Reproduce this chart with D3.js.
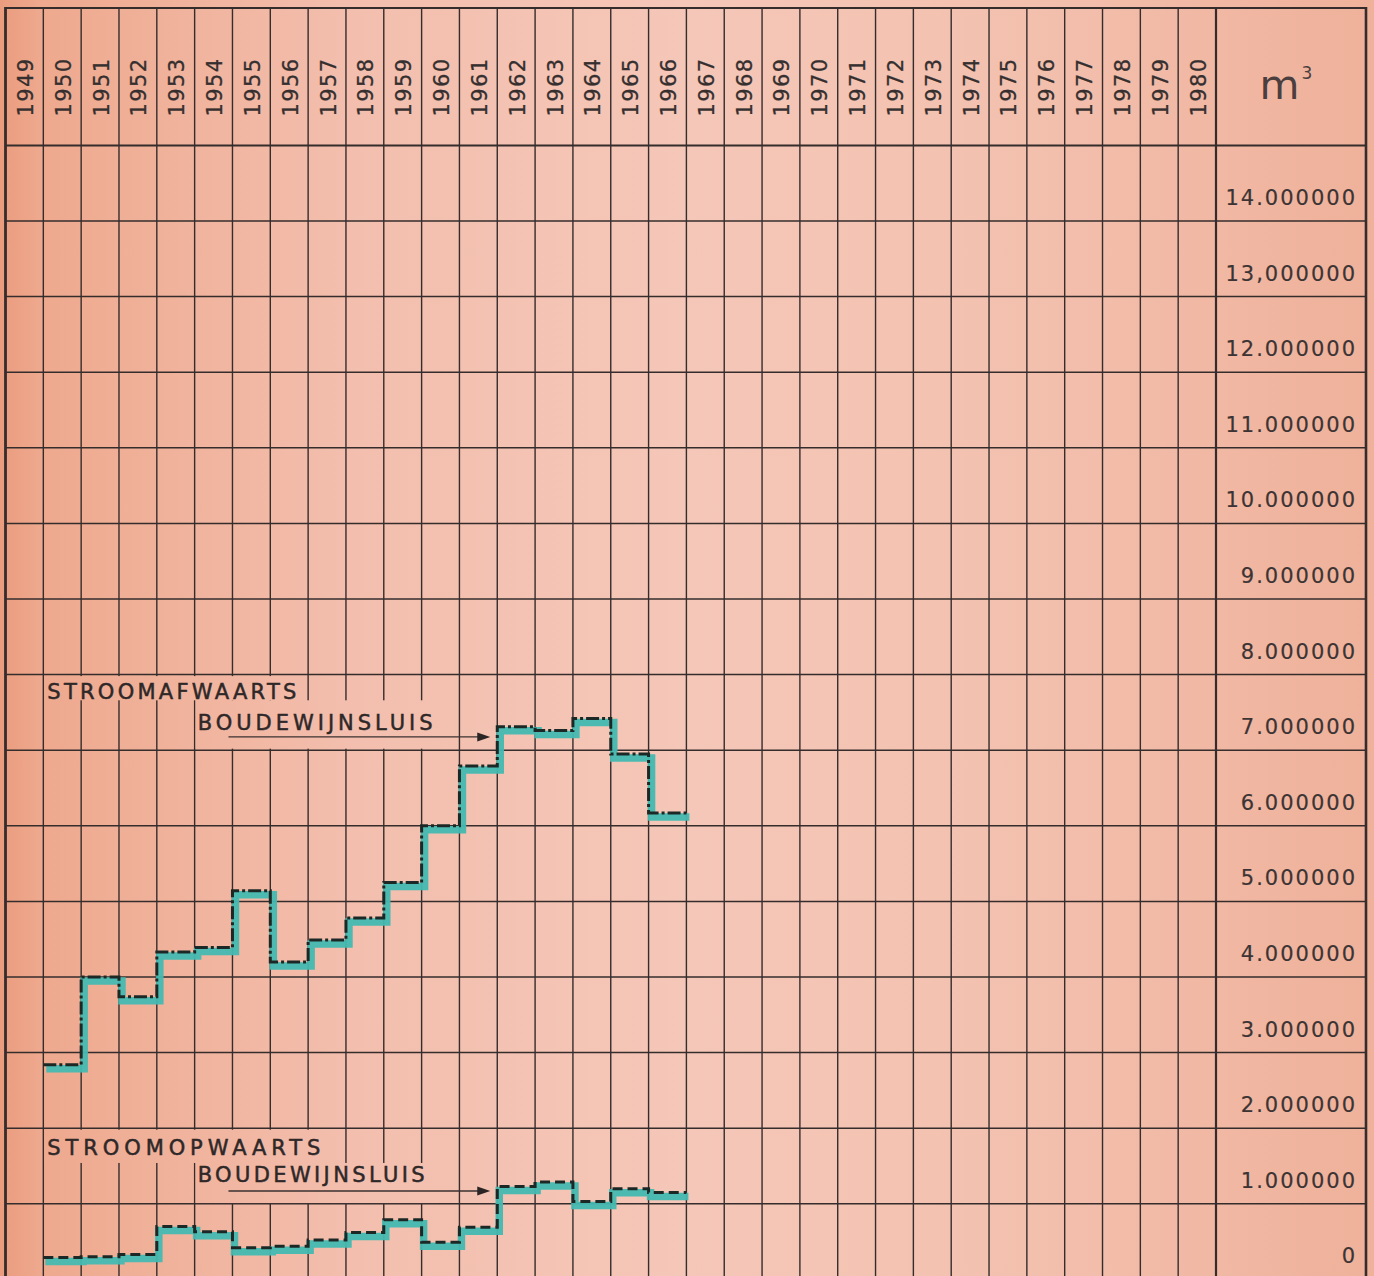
<!DOCTYPE html>
<html>
<head>
<meta charset="utf-8">
<script src="https://cdn.jsdelivr.net/npm/d3@7"></script>
<style>
  html, body { margin: 0; padding: 0; background: #f2bca6; }
  svg { display: block; }
</style>
</head>
<body>
<svg id="chart" width="1374" height="1276"></svg>
<script>
// ---------- data ----------
const years = d3.range(1949, 1981);              // column headers 1949..1980
const dataYears = d3.range(1950, 1967);          // years with data
// Stroomafwaarts Boudewijnsluis (m3)
const downstream = [2.84e6, 4.00e6, 3.74e6, 4.33e6, 4.39e6, 5.14e6, 4.20e6, 4.49e6, 4.78e6,
                    5.25e6, 6.00e6, 6.79e6, 7.31e6, 7.26e6, 7.42e6, 6.95e6, 6.17e6];
// Stroomopwaarts Boudewijnsluis (m3)
const upstream   = [0.29e6, 0.30e6, 0.33e6, 0.70e6, 0.63e6, 0.42e6, 0.44e6, 0.52e6, 0.62e6,
                    0.79e6, 0.49e6, 0.69e6, 1.23e6, 1.29e6, 1.03e6, 1.20e6, 1.15e6];
const yTicks = d3.range(0, 15e6, 1e6);
const yTickLabels = ["0", "1.000000", "2.000000", "3.000000", "4.000000", "5.000000", "6.000000",
                     "7.000000", "8.000000", "9.000000", "10.000000", "11.000000", "12.000000",
                     "13,000000", "14.000000"];
const unitLabel = "m";
const unitSup = "3";
const labelDown = ["STROOMAFWAARTS", "BOUDEWIJNSLUIS"];
const labelUp = ["STROOMOPWAARTS", "BOUDEWIJNSLUIS"];

// ---------- layout ----------
const svg = d3.select("#chart");
const W = 1374, H = 1276;
const gLeft = 5.5, colRight = 1216, gRight = 1366, gTop = 8, headerBottom = 145.4;
const x = d3.scaleBand().domain(years).range([gLeft, colRight]).padding(0);
const y = d3.scaleLinear().domain([0, 15e6]).range([1279.4, headerBottom]);
const ink = "#352c2c";
const font = "'DejaVu Sans', sans-serif";

// background gradient (user space so masks match)
const defs = svg.append("defs");
const grad = defs.append("linearGradient").attr("id", "bg")
  .attr("gradientUnits", "userSpaceOnUse").attr("x1", 0).attr("y1", 0).attr("x2", W).attr("y2", 0);
[[0, "#eb9c7e"], [0.03, "#eea98e"], [0.25, "#f3bead"], [0.5, "#f5c7b8"], [0.75, "#f3c0ae"], [1, "#efb19a"]]
  .forEach(([o, c]) => grad.append("stop").attr("offset", o).attr("stop-color", c));

svg.append("rect").attr("width", W).attr("height", H).attr("fill", "url(#bg)");

// ---------- grid ----------
const g = svg.append("g");
// vertical column lines
g.selectAll("line.v").data(years.slice(1)).join("line")
  .attr("x1", d => x(d)).attr("x2", d => x(d))
  .attr("y1", gTop).attr("y2", H)
  .attr("stroke", ink).attr("stroke-width", 1.4);
// horizontal value lines
g.selectAll("line.h").data(yTicks).join("line")
  .attr("x1", gLeft).attr("x2", gRight)
  .attr("y1", d => y(d)).attr("y2", d => y(d))
  .attr("stroke", ink).attr("stroke-width", 1.5);
// header bottom, top border
[headerBottom, gTop].forEach(yy => g.append("line")
  .attr("x1", gLeft).attr("x2", gRight).attr("y1", yy).attr("y2", yy)
  .attr("stroke", ink).attr("stroke-width", 2));
// borders
[[gLeft, 2.8], [colRight, 2.2], [gRight, 2.6]].forEach(([xx, w]) => g.append("line")
  .attr("x1", xx).attr("x2", xx).attr("y1", gTop - 1).attr("y2", H)
  .attr("stroke", ink).attr("stroke-width", w));

// masks behind lettering (grid interrupted)
const masks = [
  [x(1950) + 1, y(8e6) + 1.5, x(1957) - 1.5, y(7.66e6)],
  [x(1954) + 1, y(7.66e6), x(1961) - 20, y(7.02e6)],
  [x(1950) + 1, y(2e6) + 1.5, x(1958) - 8, y(1.54e6)],
  [x(1954) + 1, y(1.54e6), x(1961) - 20, y(1.01e6)]
];
svg.selectAll("rect.mask").data(masks).join("rect")
  .attr("x", d => d[0]).attr("y", d => d[1])
  .attr("width", d => d[2] - d[0]).attr("height", d => d[3] - d[1])
  .attr("fill", "url(#bg)");

// ---------- header text ----------
svg.selectAll("text.year").data(years).join("text")
  .attr("transform", d => `translate(${x(d) + x.bandwidth() / 2 + 1.5},87) rotate(-90)`)
  .attr("text-anchor", "middle").attr("dominant-baseline", "central")
  .attr("font-family", font).attr("font-size", 21).attr("letter-spacing", 1.4)
  .attr("fill", "#352f2f").attr("stroke", "#352f2f").attr("stroke-width", 0.3)
  .text(d => d);

const unit = svg.append("text").attr("x", (colRight + gRight) / 2 - 5).attr("y", 99)
  .attr("text-anchor", "middle").attr("font-family", font).attr("font-size", 41)
  .attr("fill", "#4a3e3e");
unit.append("tspan").text(unitLabel);
unit.append("tspan").attr("font-size", 17).attr("dy", -20).attr("dx", 2).text(unitSup);

// ---------- right axis labels ----------
svg.selectAll("text.tick").data(yTicks).join("text")
  .attr("x", 1357).attr("y", d => y(d) - 23)
  .attr("text-anchor", "end").attr("dominant-baseline", "central")
  .attr("font-family", font).attr("font-size", 21).attr("letter-spacing", 2)
  .attr("fill", "#3c3434").attr("stroke", "#3c3434").attr("stroke-width", 0.2)
  .text((d, i) => yTickLabels[i]);

// ---------- step series ----------
function stepPoints(vals) {
  const pts = dataYears.map((yr, i) => ({ px: x(yr), v: vals[i] }));
  const lastYr = dataYears[dataYears.length - 1];
  pts.push({ px: x(lastYr) + x.bandwidth(), v: vals[vals.length - 1] });
  return pts;
}
const stepLine = d3.line().x(d => d.px).y(d => y(d.v)).curve(d3.curveStepAfter);

function drawSeries(vals, dash, dx, dy) {
  const pts = stepPoints(vals);
  svg.append("path").attr("d", stepLine(pts)).attr("fill", "none")
    .attr("stroke", "#43b9b1").attr("stroke-width", 7.5).attr("stroke-linejoin", "miter")
    .attr("stroke-opacity", 0.95)
    .attr("transform", `translate(${dx},${dy})`);
  svg.append("path").attr("d", stepLine(pts)).attr("fill", "none")
    .attr("stroke", "#1c2826").attr("stroke-width", 3).attr("stroke-dasharray", dash);
}
drawSeries(downstream, "13,3,3,3", 3, 4);
drawSeries(upstream, "10,5", 2, 4);

// ---------- annotations ----------
function annot(lines, yTop, yBot, yArrow, x1, x2) {
  const t = (sel) => sel.attr("dominant-baseline", "central").attr("font-family", font)
    .attr("font-size", 21).attr("fill", "#2e2828").attr("stroke", "#2e2828").attr("stroke-width", 0.5)
    .attr("lengthAdjust", "spacing");
  svg.append("text").attr("x", x(1950) + 4).attr("y", y(yTop))
    .call(t).attr("textLength", x1).text(lines[0]);
  svg.append("text").attr("x", x(1954) + 3).attr("y", y(yBot))
    .call(t).attr("textLength", x2).text(lines[1]);
  const ya = y(yArrow);
  svg.append("line").attr("x1", x(1955) - 4).attr("x2", x(1962) - 12).attr("y1", ya).attr("y2", ya)
    .attr("stroke", "#3a3030").attr("stroke-width", 1.3);
  const tip = x(1962) - 7;
  svg.append("path").attr("d", `M${tip},${ya} L${tip - 13},${ya - 4.5} L${tip - 13},${ya + 4.5} Z`)
    .attr("fill", "#2a2424");
}
annot(labelDown, 7.774e6, 7.36e6, 7.175e6, 249, 235);
annot(labelUp, 1.742e6, 1.381e6, 1.169e6, 273, 227);
</script>
</body>
</html>
